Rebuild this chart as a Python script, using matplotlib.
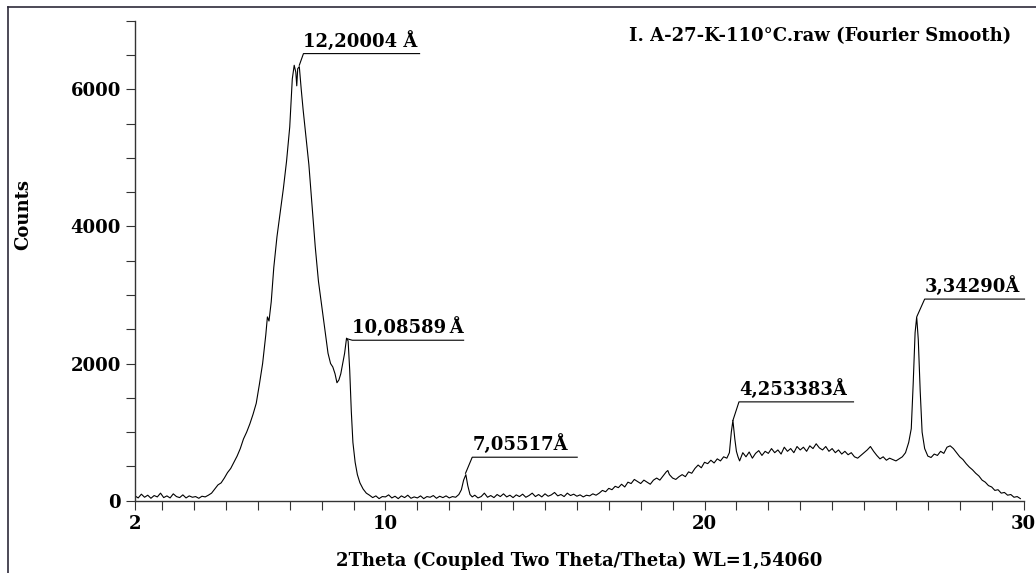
#Librerias
import numpy as np
import matplotlib.pyplot as plt
from matplotlib.lines import Line2D
from matplotlib.ticker import MultipleLocator

plt.rcParams['font.family'] = 'DejaVu Serif'
plt.rcParams['font.weight'] = 'bold'

two_theta = [2.15, 2.25, 2.35, 2.45, 2.55, 2.65, 2.75, 2.85, 2.95, 3.05, 3.15, 3.25, 3.35, 3.45,
             3.55, 3.65, 3.75, 3.85, 3.95, 4.05, 4.15, 4.25, 4.35, 4.45,
             4.55, 4.65, 4.75, 4.85, 4.95, 5.05, 5.15, 5.25, 5.35, 5.45, 5.55, 5.65, 5.75, 5.85,
             5.95, 6.05, 6.15, 6.25, 6.30, 6.35, 6.42, 6.5, 6.6, 6.7, 6.8, 6.9, 7.0, 7.08, 7.14,
             7.19, 7.22, 7.25, 7.3, 7.36, 7.42, 7.5, 7.6, 7.7, 7.8, 7.9, 8.0, 8.1, 8.2, 8.28, 8.35,
             8.42, 8.48, 8.54, 8.6, 8.66, 8.72, 8.78, 8.83, 8.88, 8.93, 8.98, 9.05, 9.12, 9.2, 9.3,
             9.4, 9.5, 9.6,
             9.7, 9.8, 9.9, 10.0, 10.1, 10.2, 10.3, 10.4, 10.5, 10.6, 10.7, 10.8, 10.9, 11.0, 11.1,
             11.2, 11.3, 11.4, 11.5, 11.6, 11.7, 11.8, 11.9, 12.0, 12.1, 12.2, 12.3, 12.38, 12.45,
             12.52, 12.58, 12.65, 12.72,
             12.8, 12.9, 13.0, 13.1, 13.2, 13.3, 13.4, 13.5, 13.6, 13.7, 13.8, 13.9, 14.0, 14.1,
             14.2, 14.3, 14.4, 14.5, 14.6, 14.7, 14.8, 14.9, 15.0, 15.1, 15.2, 15.3, 15.4, 15.5,
             15.6, 15.7, 15.8, 15.9, 16.0, 16.1, 16.2, 16.3, 16.4, 16.5, 16.6,
             16.7, 16.8, 16.9, 17.0, 17.1, 17.2, 17.3, 17.4, 17.5, 17.6, 17.7, 17.8, 17.9, 18.0,
             18.1, 18.2, 18.3, 18.4, 18.5, 18.6, 18.7, 18.8, 18.85, 18.9, 19.0, 19.1, 19.2, 19.3,
             19.4, 19.5, 19.6, 19.7, 19.8, 19.9, 20.0, 20.1, 20.2, 20.3, 20.4, 20.5, 20.6, 20.7,
             20.78, 20.84, 20.89, 20.95, 21.0, 21.05, 21.1, 21.2, 21.3, 21.4, 21.5, 21.6, 21.7,
             21.8, 21.9, 22.0, 22.1, 22.2, 22.3, 22.4, 22.5, 22.6, 22.7, 22.8, 22.9, 23.0, 23.1,
             23.2, 23.3, 23.4, 23.5, 23.6, 23.7, 23.8, 23.9, 24.0, 24.1, 24.2, 24.3, 24.4, 24.5,
             24.6, 24.7, 24.8, 24.9, 25.0, 25.1, 25.2, 25.3, 25.4, 25.5, 25.6, 25.7, 25.8, 25.9,
             26.0, 26.1, 26.2, 26.3, 26.4, 26.48, 26.54, 26.6, 26.65, 26.7, 26.76, 26.82, 26.9,
             27.0, 27.1, 27.2, 27.3, 27.4, 27.5, 27.6, 27.7, 27.8, 27.9, 28.0, 28.1, 28.2, 28.3,
             28.4, 28.5, 28.6, 28.7, 28.8, 28.9, 29.0, 29.1, 29.2, 29.3, 29.4, 29.5, 29.6, 29.7,
             29.8, 29.9]
counts = [70, 40, 95, 50, 80, 35, 75, 55, 110, 45, 70, 40, 100, 60,
          45, 85, 40, 70, 50, 60, 35, 65, 55, 80,
          110, 170, 230, 260, 330, 410, 470, 560, 650, 760, 900, 1000, 1120, 1260,
          1420, 1700, 2000, 2420, 2680, 2620, 2900, 3400, 3850, 4200, 4550, 4950, 5450, 6150, 6350,
          6250, 6050, 6300, 6330, 6000, 5700, 5350, 4900, 4300, 3700, 3200, 2850, 2500, 2150, 2000, 1950,
          1850, 1720, 1760, 1850, 2000, 2150, 2370, 2330, 1900, 1300, 850, 560, 380, 260, 170,
          110, 80, 45,
          70, 30, 60, 55, 85, 40, 65, 30, 70, 45, 80, 35, 55, 40, 70,
          30, 60, 50, 75, 35, 65, 45, 70, 40, 60, 50, 90, 160, 300,
          380, 220, 90, 55,
          80, 40, 60, 110, 50, 75, 45, 90, 60, 100, 55, 80, 45, 85,
          60, 95, 50, 75, 110, 60, 90, 55, 100, 65, 85, 120, 70, 90,
          60, 110, 75, 95, 65, 85, 55, 80, 70, 100, 80,
          110, 150, 130, 180, 160, 210, 190, 240, 200, 270, 250, 310, 280, 250,
          300, 270, 240, 300, 330, 300, 360, 420, 440, 380, 330, 310, 350, 380,
          350, 420, 400, 470, 520, 480, 560, 540, 590, 550, 610, 580, 640, 620,
          700, 1000, 1170, 900, 720, 640, 580, 700, 640, 710, 620, 690, 730,
          660, 720, 690, 760, 700, 740, 680, 780, 720, 760, 700, 790, 740, 780,
          720, 800, 760, 830, 770, 740, 790, 720, 760, 700, 740, 680, 720, 670,
          700, 640, 620, 660, 700, 740, 790, 720, 660, 610, 640, 590, 620, 600,
          580, 610, 640, 700, 850, 1050, 1700, 2450, 2680, 2350, 1600, 1000, 760,
          650, 630, 680, 660, 720, 690, 780, 800, 760, 700, 640, 600, 540, 490,
          450, 400, 360, 300, 270, 220, 200, 150, 160, 110, 120, 80, 90, 50,
          60, 30]

# Etiquetas de los picos (apice, esquina de la linea, fin de la linea)
peak_labels = ['12,20004 Å', '10,08589\u2009Å', '7,05517Å', '4,253383Å', '3,34290Å']
peak_x = [7.3, 8.81, 12.51, 20.89, 26.66]
peak_y = [6350, 2360, 400, 1170, 2690]
leader_x = [7.43, 8.96, 12.72, 21.08, 26.90]
leader_y = [6520, 2340, 634, 1441, 2940]
leader_end = [11.07, 12.45, 16.01, 24.67, 30.03]

fig = plt.figure(figsize=(10.36, 5.73), dpi=100)
ax = fig.add_axes([0.1303, 0.1262, 0.8577, 0.8377])

ax.plot(two_theta, counts, color='black', linewidth=0.8)

for lab, px, py, lx, ly, le in zip(peak_labels, peak_x, peak_y, leader_x, leader_y, leader_end):
    ax.plot([px, lx, le], [py, ly, ly], color='black', linewidth=0.8, clip_on=False)
    ax.annotate(lab, (lx, ly), xytext=(0, 2), textcoords='offset points',
                ha='left', va='bottom', fontsize=13, fontweight='bold', annotation_clip=False)

ax.set_xlim(2.15, 30)
ax.set_ylim(0, 7000)
ax.set_xticks([2.15, 10, 20, 30])
ax.set_xticklabels(['2', '10', '20', '30'])
ax.xaxis.set_minor_locator(MultipleLocator(1))
ax.set_yticks([0, 2000, 4000, 6000])
ax.yaxis.set_minor_locator(MultipleLocator(500))
ax.tick_params(which='both', direction='out', length=6.5, width=0.8, color='#333333', labelsize=13)
ax.tick_params(axis='x', pad=4)

for lado in ['top', 'right']:
    ax.spines[lado].set_visible(False)
for lado in ['left', 'bottom']:
    ax.spines[lado].set_linewidth(1.0)
    ax.spines[lado].set_color('#333333')

fig.text(0.022, 0.625, 'Counts', rotation=90, ha='center', va='center', fontsize=13, fontweight='bold')
fig.text(0.559, 0.022, '2Theta (Coupled Two Theta/Theta) WL=1,54060', ha='center', va='center',
         fontsize=13, fontweight='bold')
fig.text(0.976, 0.937, 'I. A-27-K-110°C.raw (Fourier Smooth)', ha='right', va='center',
         fontsize=13, fontweight='bold')

# marco de la figura
fig.add_artist(Line2D([0.0078, 0.0078], [0, 0.988], color='#2d2a3a', linewidth=1.2))
fig.add_artist(Line2D([0.0078, 1], [0.988, 0.988], color='#2d2a3a', linewidth=1.2))

plt.savefig('out.png', dpi=100)
